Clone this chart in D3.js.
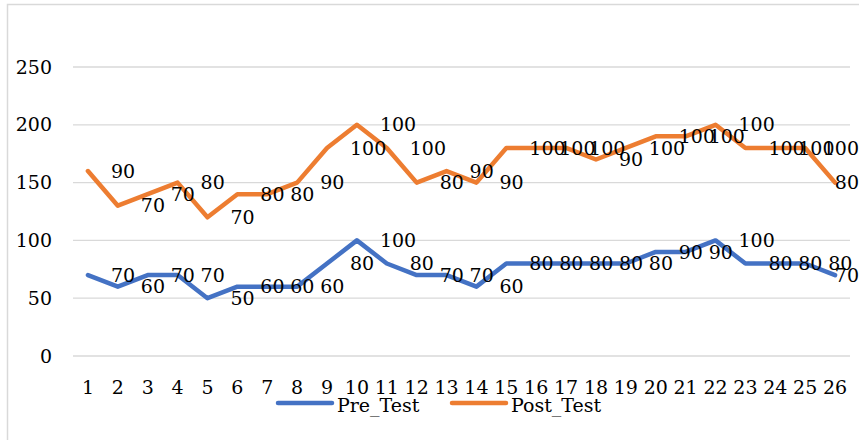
<!DOCTYPE html>
<html>
<head>
<meta charset="utf-8">
<script src="https://cdn.jsdelivr.net/npm/d3@7"></script>
<style>
  body { margin: 0; background: #fff; }
  text { font-family: "DejaVu Serif", serif; font-size: 19px; fill: #000; }
</style>
</head>
<body>
<div id="chart"></div>
<script>
const categories = d3.range(1, 27).map(String)
const preTest = [70, 60, 70, 70, 50, 60, 60, 60, 80, 100, 80, 70, 70, 60, 80, 80, 80, 80, 80, 90, 90, 100, 80, 80, 80, 70]
const postTest = [90, 70, 70, 80, 70, 80, 80, 90, 100, 100, 100, 80, 90, 90, 100, 100, 100, 90, 100, 100, 100, 100, 100, 100, 100, 80]
const yTicks = [0, 50, 100, 150, 200, 250]

const W = 859
const H = 440

const svg = d3
  .select('#chart')
  .append('svg')
  .attr('width', W)
  .attr('height', H)

// chart frame (left and top edges visible)
svg.append('path')
  .attr('d', 'M7.5,' + H + 'V4.5H' + W)
  .attr('fill', 'none')
  .attr('stroke', '#d9d9d9')
  .attr('stroke-width', 1.5)

const x = d3.scalePoint().domain(categories).range([73, 850]).padding(0.5)
const y = d3.scaleLinear().domain([0, 250]).range([356, 67])

// gridlines
svg.selectAll('.grid')
  .data(yTicks)
  .enter()
  .append('line')
  .attr('x1', 73)
  .attr('x2', 850)
  .attr('y1', d => y(d))
  .attr('y2', d => y(d))
  .attr('stroke', '#d9d9d9')
  .attr('stroke-width', 1.3)

svg.selectAll('.ylab')
  .data(yTicks)
  .enter()
  .append('text')
  .attr('x', 52)
  .attr('y', d => y(d))
  .attr('dy', '0.35em')
  .attr('text-anchor', 'end')
  .text(d => d)

svg.selectAll('.xlab')
  .data(categories)
  .enter()
  .append('text')
  .attr('x', d => x(d))
  .attr('y', 387)
  .attr('dy', '0.35em')
  .attr('text-anchor', 'middle')
  .text(d => d)

const stacked = preTest.map((d, i) => d + postTest[i])

const series = [
  { name: 'Pre_Test', color: '#4472C4', tops: preTest, labels: preTest },
  { name: 'Post_Test', color: '#ED7D31', tops: stacked, labels: postTest }
]

const line = d3.line()
  .x((d, i) => x(categories[i]))
  .y(d => y(d))

series.forEach(s => {
  svg.append('path')
    .datum(s.tops)
    .attr('d', line)
    .attr('fill', 'none')
    .attr('stroke', s.color)
    .attr('stroke-width', 4.5)
    .attr('stroke-linejoin', 'round')
    .attr('stroke-linecap', 'round')
})

series.forEach(s => {
  svg.selectAll(null)
    .data(s.labels)
    .enter()
    .append('text')
    .attr('y', (d, i) => y(s.tops[i]))
    .attr('dy', '0.35em')
    .text(d => d)
    .each(function (d, i) {
      const w = this.getComputedTextLength()
      d3.select(this).attr('x', Math.min(x(categories[i]) + 23, W - w))
    })
})

// legend
const legend = svg.append('g')
const legendX = [278, 452]
series.forEach((s, i) => {
  legend.append('line')
    .attr('x1', legendX[i])
    .attr('x2', legendX[i] + 54)
    .attr('y1', 403)
    .attr('y2', 403)
    .attr('stroke', s.color)
    .attr('stroke-width', 4.5)
    .attr('stroke-linecap', 'round')
  legend.append('text')
    .attr('x', legendX[i] + 59)
    .attr('y', 405)
    .attr('dy', '0.35em')
    .text(s.name)
})
</script>
</body>
</html>
